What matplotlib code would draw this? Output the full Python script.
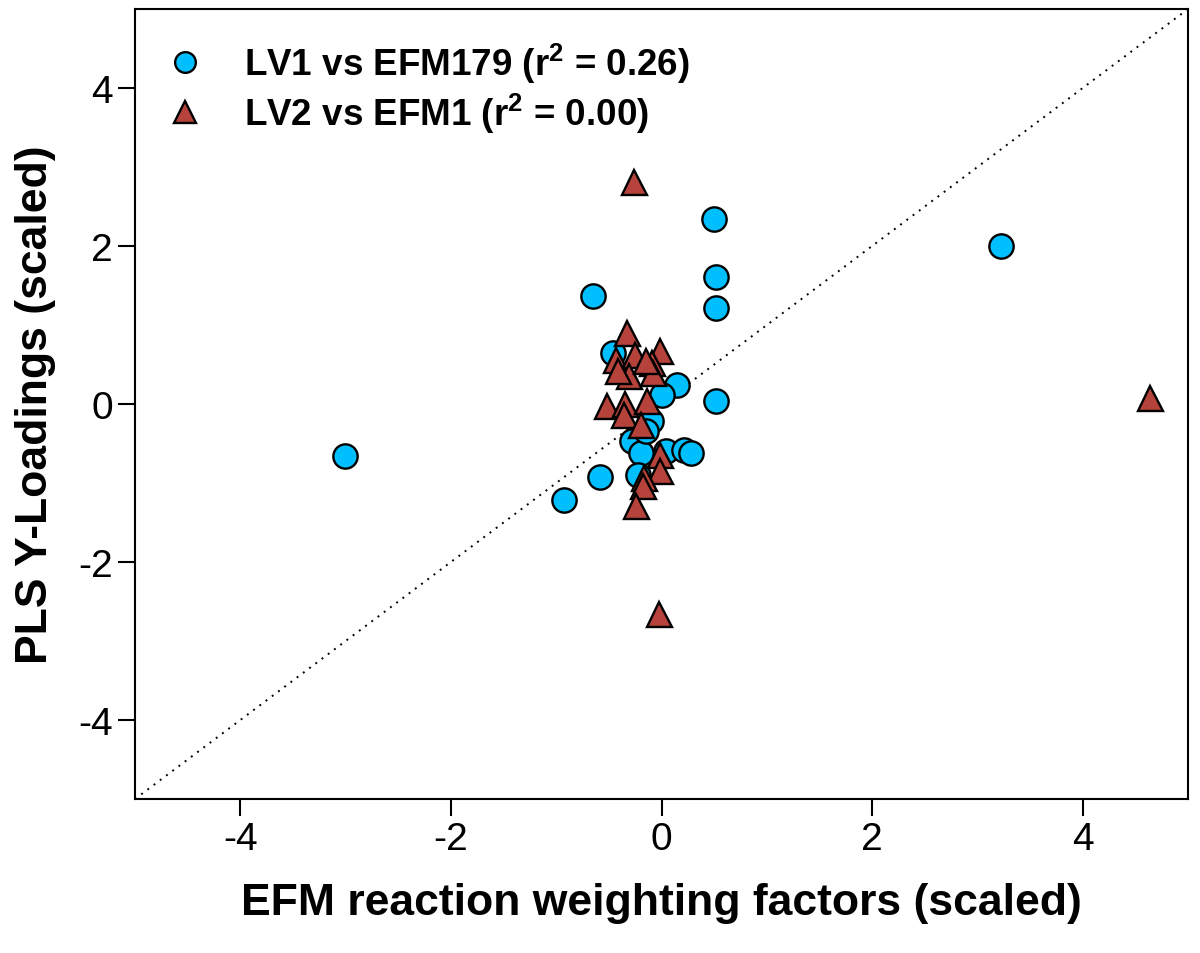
import matplotlib
matplotlib.use('Agg')
import matplotlib.pyplot as plt

plt.rcParams['font.family'] = ['Liberation Sans', 'DejaVu Sans']
plt.rcParams['axes.unicode_minus'] = False
plt.rcParams['mathtext.fontset'] = 'custom'
plt.rcParams['mathtext.rm'] = 'Liberation Sans:bold'
plt.rcParams['mathtext.it'] = 'Liberation Sans:bold'
plt.rcParams['mathtext.bf'] = 'Liberation Sans:bold'

# LV1 vs EFM179 (circles)
lv1_x = [-3.01, -0.93, -0.58, -0.65, 0.50, 0.52, 0.52, 0.52, 3.22, -0.46,
         0.15, 0.00, -0.10, -0.28, -0.19, 0.04, 0.21, 0.28, -0.22, -0.15]
lv1_y = [-0.66, -1.22, -0.92, 1.37, 2.34, 1.61, 1.22, 0.04, 2.00, 0.65,
         0.24, 0.11, -0.22, -0.47, -0.62, -0.60, -0.58, -0.62, -0.90, -0.34]

# LV2 vs EFM1 (triangles)
lv2_x = [-0.26, 4.64, -0.02, -0.33, -0.43, -0.25, -0.01, -0.09, -0.31, -0.41,
         -0.08, -0.15, -0.52, -0.35, -0.14, -0.36, -0.19, -0.01, -0.01, -0.17,
         -0.18, -0.24]
lv2_y = [2.81, 0.08, -2.66, 0.90, 0.56, 0.62, 0.67, 0.52, 0.35, 0.42,
         0.39, 0.55, -0.03, 0.00, 0.04, -0.14, -0.27, -0.65, -0.85, -0.94,
         -1.04, -1.29]

fig = plt.figure(figsize=(12, 9.54), dpi=100)
ax = fig.add_axes([0.1125, 0.1614, 0.8775, 0.8281])

ax.plot([-5, 5], [-5, 5], color='black', linestyle=(0, (1, 3)), linewidth=1.4, zorder=1)

ax.plot(lv1_x, lv1_y, 'o', markersize=17.5, markerfacecolor='#00BFFF',
        markeredgecolor='black', markeredgewidth=1.7, linestyle='none',
        label='LV1 vs EFM179 (r$^{2}$ = 0.26)', zorder=3)
ax.plot(lv2_x, lv2_y, '^', markersize=18, markerfacecolor='#B5433B',
        markeredgecolor='black', markeredgewidth=1.7, linestyle='none',
        label='LV2 vs EFM1 (r$^{2}$ = 0.00)', zorder=4)

ax.set_xlim(-5, 5)
ax.set_ylim(-5, 5)
ax.set_xticks([-4, -2, 0, 2, 4])
ax.set_yticks([-4, -2, 0, 2, 4])
ax.tick_params(direction='out', length=12, width=1.5, labelsize=28, pad=4)
for s in ax.spines.values():
    s.set_linewidth(1.5)

ax.set_xlabel('EFM reaction weighting factors (scaled)', fontsize=32,
              fontweight='bold', labelpad=18)
ax.set_ylabel('PLS Y-Loadings (scaled)', fontsize=32, fontweight='bold', labelpad=16)

leg = ax.legend(loc='upper left', frameon=False, fontsize=26.5, handletextpad=0.9,
                borderaxespad=0.25, borderpad=0.4, labelspacing=0.15, markerscale=0.85,
                handlelength=1.4, bbox_to_anchor=(0.0, 0.99))
for t in leg.get_texts():
    t.set_fontweight('bold')

fig.savefig('out.png', dpi=100)
